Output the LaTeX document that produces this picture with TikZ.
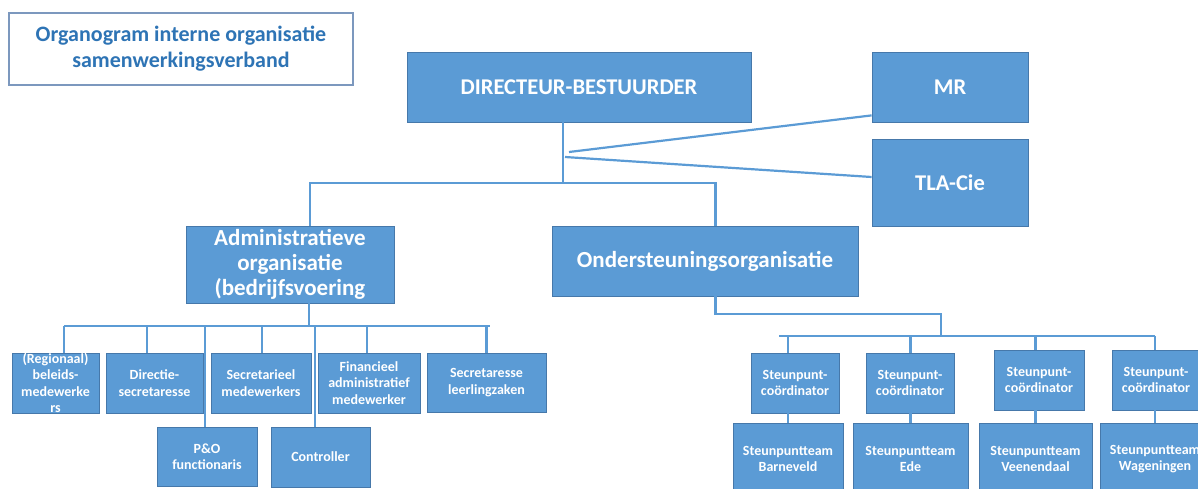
\documentclass[tikz,border=0pt]{standalone}
\usepackage{fontspec}
\setmainfont{Carlito}
\usepackage{tikz}
\usetikzlibrary{positioning,calc}
\definecolor{orgfill}{RGB}{91,155,213}
\definecolor{orgedge}{RGB}{70,120,170}
\definecolor{orgline}{RGB}{91,155,213}
\definecolor{orgtitle}{RGB}{46,116,181}
\definecolor{orgframe}{RGB}{124,152,190}
\tikzstyle{unit} = [rectangle, inner sep=0pt, align=center, text centered, draw=orgedge, fill=orgfill, line width=0.8pt, text=white, font=\bfseries]
\tikzstyle{bigunit} = [unit, font=\fontsize{22.5}{26}\selectfont\bfseries]
\tikzstyle{smallunit} = [unit, font=\fontsize{14}{16.5}\selectfont\bfseries]
\tikzstyle{link} = [line width=2.2pt, color=orgline]

\begin{document}
\begin{tikzpicture}[x=1pt, y=-1pt]
\useasboundingbox (0,0) rectangle (1198,489);
\clip (0,0) rectangle (1198,489);

% Title
\node[rectangle, draw=orgframe, line width=1.2pt, fill=white, minimum width=344, minimum height=72, align=center, text=orgtitle, font=\fontsize{22}{26}\selectfont\bfseries] (title) at (181,49) {Organogram interne organisatie\\samenwerkingsverband};

% Top level
\node[bigunit, minimum width=344, minimum height=70] (db) at (579,87) {DIRECTEUR-BESTUURDER};
\node[bigunit, minimum width=156, minimum height=70] (mr) at (950,87) {MR};
\node[bigunit, minimum width=156, minimum height=87] (tla) at (950,182.5) {TLA-Cie};

% Second level
\node[bigunit, minimum width=208, minimum height=77, font=\fontsize{23}{25}\selectfont\bfseries] (adm) at (290,264.5) {Administratieve\\organisatie\\(bedrijfsvoering};
\node[bigunit, minimum width=306, minimum height=70, font=\fontsize{23}{26}\selectfont\bfseries] (ond) at (705,261) {Ondersteuningsorganisatie};

% Administratieve organisatie
\node[smallunit, minimum width=87, minimum height=60] (reg) at (55.5,383) {(Regionaal)\\beleids-\\medewerke\\rs};
\node[smallunit, minimum width=97, minimum height=60] (dir) at (154.5,383) {Directie-\\secretaresse};
\node[smallunit, minimum width=100, minimum height=60] (sec) at (261,383) {Secretarieel\\medewerkers};
\node[smallunit, minimum width=102, minimum height=60] (fin) at (369,383) {Financieel\\administratief\\medewerker};
\node[smallunit, minimum width=119, minimum height=59] (sll) at (486.5,382.5) {Secretaresse\\leerlingzaken};
\node[smallunit, minimum width=100, minimum height=59] (po) at (207,456.5) {P\&O\\functionaris};
\node[smallunit, minimum width=99, minimum height=60] (ctl) at (320.5,457) {Controller};

% Ondersteuningsorganisatie
\node[smallunit, minimum width=88, minimum height=60] (c1) at (795,383) {Steunpunt-\\coördinator};
\node[smallunit, minimum width=88, minimum height=60] (c2) at (910,383) {Steunpunt-\\coördinator};
\node[smallunit, minimum width=90, minimum height=60] (c3) at (1039,380) {Steunpunt-\\coördinator};
\node[smallunit, minimum width=88, minimum height=60] (c4) at (1156,380) {Steunpunt-\\coördinator};
\node[smallunit, minimum width=110, minimum height=72] (t1) at (788,459) {Steunpuntteam\\Barneveld};
\node[smallunit, minimum width=115, minimum height=72] (t2) at (910.5,459) {Steunpuntteam\\Ede};
\node[smallunit, minimum width=113, minimum height=72] (t3) at (1035.5,459) {Steunpuntteam\\Veenendaal};
\node[smallunit, minimum width=110, minimum height=72] (t4) at (1155,459) {Steunpuntteam\\Wageningen};

% Connectors top
\coordinate (topbar) at (563,183);
\coordinate (mrfoot) at (569,152);
\coordinate (tlafoot) at (565,157);
\draw[link] (db.south -| topbar) -- (topbar);
\draw[link] ([xshift=20]adm.north) |- (topbar) -| ([xshift=10.5]ond.north);
\draw[link] (mrfoot) -- ([yshift=7]mr.south west);
\draw[link] (tlafoot) -- ([yshift=5.5]tla.west);

% Connectors left
\coordinate (lbar) at (309,326);
\draw[link] (adm.south -| lbar) -- (lbar);
\draw[link] ([xshift=8.5]reg.north |- lbar) -- ([xshift=3.5]sll.north |- lbar);
\foreach \n/\dx in {reg/8.5, dir/-7.5, sec/1, fin/-2, sll/0, po/-2, ctl/-5.5}
  \draw[link] ([xshift=\dx]\n.north |- lbar) -- ([xshift=\dx]\n.north);

% Connectors right
\coordinate (ondknee) at (941,314);
\coordinate (rbar) at (941,336);
\draw[link] ([xshift=10.5]ond.south) |- (ondknee) -- (rbar);
\draw[link] ([xshift=-9]t1.north |- rbar) -- (t4.north |- rbar);
\foreach \n/\m in {c1/t1, c2/t2, c3/t3, c4/t4} {
  \draw[link] (\m.north |- rbar) -- (\m.north |- \n.north);
  \draw[link] (\m.north |- \n.south) -- (\m.north);
}
\end{tikzpicture}
\end{document}
